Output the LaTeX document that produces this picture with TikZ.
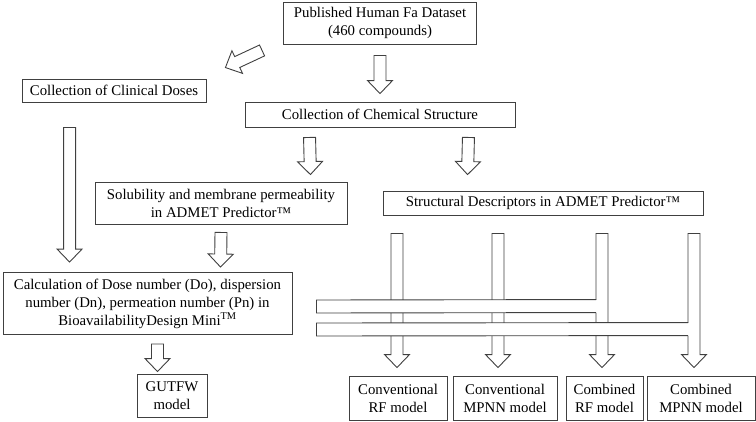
\documentclass[tikz,border=0pt]{standalone}
\usepackage{fontspec}
\setmainfont{Liberation Serif}
\usetikzlibrary{calc}

\tikzset{
  box/.style={draw=black!75, line width=0.9pt, inner sep=0pt, align=center,
    font=\fontsize{14.8}{18}\selectfont},
  hollow/.style={draw=black!75, line width=0.9pt, fill=white},
  tube/.style={draw=black!75, line width=0.9pt},
}

% hollow block arrow from #1 (tail) to #2 (tip)
\newcommand{\blockarrow}[2]{%
  \coordinate (ba-t) at (#1);
  \coordinate (ba-h) at (#2);
  \coordinate (ba-b) at ($(ba-h)!13pt!(ba-t)$);
  \draw[hollow] ($(ba-t)!6pt!90:(ba-h)$) -- ($(ba-b)!6pt!90:(ba-h)$)
    -- ($(ba-b)!12.5pt!90:(ba-h)$) -- (ba-h) -- ($(ba-b)!12.5pt!-90:(ba-h)$)
    -- ($(ba-b)!6pt!-90:(ba-h)$) -- ($(ba-t)!6pt!-90:(ba-h)$) -- cycle;
}

\begin{document}
\begin{tikzpicture}[x=1pt,y=-1pt]
\useasboundingbox (0,0) rectangle (756,421);

% boxes
\node[box, minimum width=193pt, minimum height=42pt] (pub) at (380,23) {Published Human Fa Dataset\\(460 compounds)};
\node[box, minimum width=184pt, minimum height=23pt] (dose) at (114,90.5) {Collection of Clinical Doses};
\node[box, minimum width=270pt, minimum height=25pt] (chem) at (380,114.5) {Collection of Chemical Structure};
\node[box, minimum width=252pt, minimum height=42pt] (sol) at (221,203) {Solubility and membrane permeability\\in ADMET Predictor™};
\node[box, minimum width=320pt, minimum height=24pt] (desc) at (543,203) {Structural Descriptors in ADMET Predictor™};
\node[box, minimum width=289pt, minimum height=62pt] (calc) at (147.5,303.5) {Calculation of Dose number (Do), dispersion\\number (Dn), permeation number (Pn) in\\BioavailabilityDesign Mini\textsuperscript{TM}};
\node[box, minimum width=70pt, minimum height=43pt] (gut) at (172,395.5) {GUTFW\\model};
\node[box, minimum width=98pt, minimum height=44pt] (crf) at (398,398) {Conventional\\RF model};
\node[box, minimum width=104pt, minimum height=44pt] (cmp) at (505,398) {Conventional\\MPNN model};
\node[box, minimum width=77pt, minimum height=44pt] (brf) at (604.5,398) {Combined\\RF model};
\node[box, minimum width=108pt, minimum height=44pt] (bmp) at (701,398) {Combined\\MPNN model};

% arrows between boxes
\blockarrow{$(pub.south)+(0,11)$}{$(chem.north)+(0,-8)$}
\blockarrow{$(pub.south west)+(-21,6)$}{$(dose.north east)+(19,-11)$}
\blockarrow{$(dose.south west)+(48,25)$}{$(calc.north west)+(67,-10)$}
\blockarrow{$(chem.south west)+(65,10)$}{$(sol.north east)+(-37,-7)$}
\blockarrow{$(chem.south east)+(-47,10)$}{$(desc.north west)+(85,-16)$}
\blockarrow{$(sol.south)+(0,8)$}{$(calc.north west)+(218,-5)$}
\blockarrow{$(calc.south)+(10,9)$}{$(gut.north)+(-14.5,-2)$}

% descriptor columns to the four models
\blockarrow{$(desc.south -| crf.north)+(-1,18)$}{$(crf.north)+(-1,-8)$}
\blockarrow{$(desc.south -| cmp.north)+(-7,18)$}{$(cmp.north)+(-7,-8)$}
\blockarrow{$(desc.south -| brf.north)+(-2.5,18)$}{$(brf.north)+(-2.5,-8)$}
\blockarrow{$(desc.south -| bmp.north)+(-7,18)$}{$(bmp.north)+(-7,-8)$}

% dose numbers piped into the combined models
\coordinate (p1) at ($(calc.east)+(24,-3.5)$);
\coordinate (p2) at ($(calc.east)+(24,19.5)$);
\fill[white] (p1) rectangle ($(brf.north)+(-2.5,-63)$);
\draw[tube] ($(brf.north)+(-8.5,-76)$) -- (p1) -- ++(0,13) -- ($(brf.north)+(-8.5,-63)$);
\fill[white] (p2) rectangle ($(bmp.north)+(-7,-40)$);
\draw[tube] ($(bmp.north)+(-13,-53)$) -- (p2) -- ++(0,13) -- ($(bmp.north)+(-13,-40)$);
\end{tikzpicture}
\end{document}
